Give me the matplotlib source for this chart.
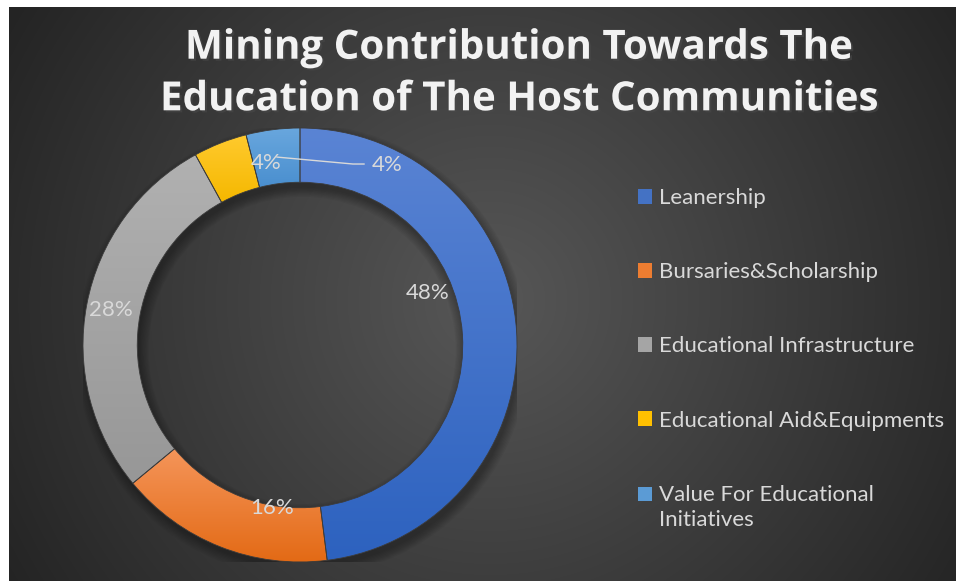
import matplotlib as mpl
import matplotlib.pyplot as plt
import matplotlib.patheffects as pe
from matplotlib.patches import Patch
from matplotlib.colors import to_rgb
import numpy as np

mpl.rcParams['font.family'] = ['Lato', 'DejaVu Sans']

W, H = 956, 581

categories = ["Leanership",
              "Bursaries&Scholarship",
              "Educational Infrastructure",
              "Educational Aid&Equipments",
              "Value For Educational\nInitiatives"]
shares = [48, 16, 28, 4, 4]
pct_labels = ["48%", "16%", "28%", "4%", "4%"]

# top / bottom shade of each slice
top_colors = ["#5a84d4", "#f5955a", "#b1b1b1", "#ffca2e", "#69a7de"]
bot_colors = ["#2d62bf", "#e36a15", "#979797", "#f5b800", "#4a8fcf"]
legend_colors = ["#4472c4", "#ed7d31", "#a5a5a5", "#ffc000", "#5b9bd5"]

# where each percentage sits, in pie units (radius = 1)
label_pos = [(0.59, 0.24), (-0.13, -0.75), (-0.87, 0.16), (-0.157, 0.84), (0.40, 0.83)]

TEXT = '#d9d9d9'

fig = plt.figure(figsize=(W / 100, H / 100), dpi=100)
fig.patch.set_facecolor('white')

# background panel with radial shading
bg = fig.add_axes([0, 0, 1, 1])
bg.set_xlim(0, W)
bg.set_ylim(H, 0)
bg.axis('off')
yy, xx = np.mgrid[7:H:1.0, 9:W:1.0]
r = np.hypot(xx - 490, yy - 300) / 560
r = np.clip(r, 0, 1)
c0 = np.array(to_rgb('#575757'))
c1 = np.array(to_rgb('#242424'))
img = c0[None, None, :] * (1 - r[..., None]) + c1[None, None, :] * r[..., None]
bg.imshow(img, extent=[9, W, H, 7], aspect='auto', interpolation='bilinear')

# doughnut
cx, cy, R = 300, 345, 217
ax = fig.add_axes([(cx - R) / W, (H - cy - R) / H, 2 * R / W, 2 * R / H])
ax.set_xlim(-1, 1)
ax.set_ylim(-1, 1)
ax.axis('off')

# soft shadow under the ring
for k in range(8):
    ax.add_patch(mpl.patches.Annulus((0.01, -0.025), 1.0 + 0.006 * k, 0.25 + 0.012 * k,
                                     color='black', alpha=0.04, lw=0, zorder=0))

wedges, _ = ax.pie(shares, startangle=90, counterclock=False, radius=1,
                   wedgeprops=dict(width=0.25, edgecolor='#3c3c3c', linewidth=0.6))
for w, ct, cb in zip(wedges, top_colors, bot_colors):
    ext = w.get_path().get_extents()
    t = np.linspace(0, 1, 200)[:, None]
    grad = np.array(to_rgb(ct))[None, None, :] * (1 - t[..., None]) + \
        np.array(to_rgb(cb))[None, None, :] * t[..., None]
    grad = np.repeat(grad, 2, axis=1)
    im = ax.imshow(grad, extent=[ext.x0, ext.x1, ext.y0, ext.y1], aspect='auto',
                   zorder=1, interpolation='bilinear')
    im.set_clip_path(w)
    w.set_facecolor('none')
    w.set_zorder(2)
ax.set_xlim(-1, 1)
ax.set_ylim(-1, 1)

for txt, (x, y) in zip(pct_labels, label_pos):
    ax.text(x, y, txt, ha='center', va='center', fontsize=16, color=TEXT, zorder=4)
# leader line for the last slice
ax.plot([-0.106, 0.244, 0.295], [0.866, 0.834, 0.834], color=TEXT, lw=1, zorder=3)

# title
fig.text(518 / W, 1 - 74 / H, "Mining Contribution Towards The\nEducation of The Host Communities",
         ha='center', va='center', fontsize=29, fontweight='bold', color='#f2f2f2',
         family='Open Sans', linespacing=1.42,
         path_effects=[pe.withSimplePatchShadow(offset=(1.5, -1.5), alpha=0.6)])

handles = [Patch(facecolor=c, edgecolor='none') for c in legend_colors]
leg = fig.legend(handles, categories, loc='upper left', bbox_to_anchor=(638 / W, 1 - 188 / H),
                 frameon=False, fontsize=16, labelcolor=TEXT, labelspacing=2.44,
                 handlelength=0.65, handleheight=0.65, handletextpad=0.3,
                 borderaxespad=0, borderpad=0)
for t in leg.get_texts():
    t.set_linespacing(1.35)
# keep the two-line entry's marker on its first line
last = leg.legend_handles[-1]
last.set_y(last.get_y() + 10)

fig.savefig('out.png', dpi=100)
